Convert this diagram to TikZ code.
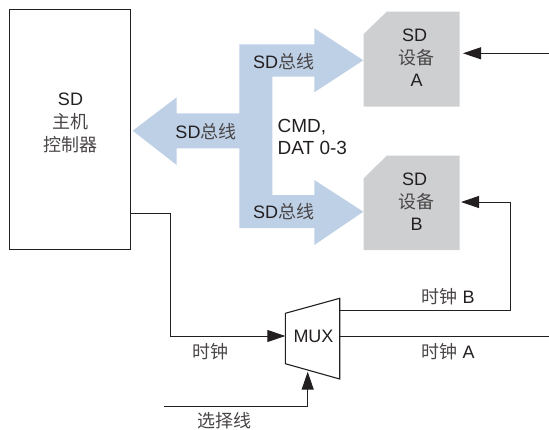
\documentclass[tikz,border=0pt]{standalone}
\usepackage{fontspec}
\setmainfont{Liberation Sans}
\newfontfamily\cjk{Noto Sans CJK SC}
\newcommand{\zh}[1]{{\cjk\color{txtgray}#1}}
\definecolor{busblue}{HTML}{BDD0E6}
\definecolor{devgray}{HTML}{CDCFD1}
\definecolor{ink}{HTML}{231F20}
\definecolor{txtgray}{HTML}{4A4647}
\usetikzlibrary{arrows.meta}
\tikzset{
  lbl/.style={inner sep=0pt,text=ink,font=\fontsize{18}{22}\selectfont,align=center},
  wire/.style={draw=ink,line width=1pt},
  flow/.style={wire,-{Triangle[length=18pt,width=12pt]}},
  bus/.style={fill=busblue,draw=none},
  dev/.style={fill=devgray,draw=none},
}
\begin{document}
\begin{tikzpicture}[x=1pt,y=-1pt]
\useasboundingbox (0,0) rectangle (549,429);
% bus
\fill[bus] (132.7,130.7) -- (176.7,97.3) -- (176.7,113.3) -- (239.3,113.3) -- (239.3,44.3)
  -- (314.3,44.3) -- (314.3,28.3) -- (363.3,60.3) -- (314.3,92.3) -- (314.3,76.7)
  -- (272.3,76.7) -- (272.3,195) -- (314.3,195) -- (314.3,180) -- (363.3,211.7)
  -- (314.3,245) -- (314.3,228) -- (239.3,228) -- (239.3,148.3) -- (176.7,148.3) -- (176.7,165) -- cycle;
% devices
\fill[dev] (363.7,34) -- (386.7,11.7) -- (459.7,11.7) -- (459.7,106.7) -- (363.7,106.7) -- cycle;
\fill[dev] (363.7,178.3) -- (386.7,155.7) -- (459.7,155.7) -- (459.7,250) -- (363.7,250) -- cycle;
% host
\node[draw=ink,line width=1pt,minimum width=121pt,minimum height=240pt,inner sep=0pt] (host) at (69.5,129) {};
% mux
\coordinate (muxL) at (285.3,336);
\coordinate (muxR) at (339.7,336);
\coordinate (muxRB) at (339.7,310.7);
\coordinate (muxB) at (307.7,371.7);
\draw[wire,line width=1.1pt,fill=white,line join=miter] (285.3,313.3) -- (339.7,298.3) -- (339.7,379) -- (285.3,363.7) -- cycle;
\node[lbl] (mux) at (313.5,336) {MUX};
% free ends
\coordinate (hostOut) at (130,213);
\coordinate (aIn) at (463,53.3);
\coordinate (aEnd) at (549,53.3);
\coordinate (bIn) at (461,202);
\coordinate (clkEnd) at (549,336);
\coordinate (selEnd) at (164,406.7);
% wires
\draw[flow] (hostOut) -- (170,213) -- (170,336) -- (muxL);
\draw[flow] (aEnd) -- (aIn);
\draw[flow] (muxRB) -- (510,310.7) -- (510,202) -- (bIn);
\draw[wire] (muxR) -- (clkEnd);
\draw[flow] (selEnd) -- (307.7,406.7) -- (muxB);
% labels
\node[lbl] at (70.5,99) {SD};
\node[lbl] at (70.5,122) {\zh{主机}};
\node[lbl] at (70.5,145) {\zh{控制器}};
\node[lbl] at (414.5,35) {SD};
\node[lbl] at (416,58) {\zh{设备}};
\node[lbl] at (416.5,80) {A};
\node[lbl] at (414.5,179) {SD};
\node[lbl] at (416,202) {\zh{设备}};
\node[lbl] at (416.5,224) {B};
\node[lbl] at (283.5,61.5) {SD\zh{总线}};
\node[lbl] at (206,131.5) {SD\zh{总线}};
\node[lbl] at (283.5,211.5) {SD\zh{总线}};
\node[lbl,align=left,anchor=west,font=\fontsize{19}{22.5}\selectfont] at (277.5,137) {CMD,\\DAT 0-3};
\node[lbl] at (448,297) {\zh{时钟} B};
\node[lbl] at (448,352) {\zh{时钟} A};
\node[lbl] at (210.5,352) {\zh{时钟}};
\node[lbl] at (224,421) {\zh{选择线}};
\end{tikzpicture}
\end{document}
